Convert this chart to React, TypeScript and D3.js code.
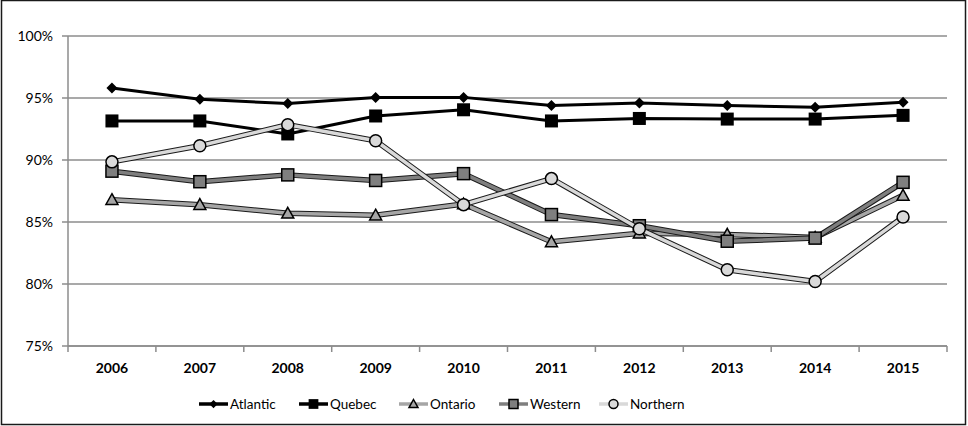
import React from "react";
import * as d3 from "d3";

const years = ["2006", "2007", "2008", "2009", "2010", "2011", "2012", "2013", "2014", "2015"];
const atlantic = [95.8, 94.9, 94.55, 95.05, 95.05, 94.4, 94.6, 94.4, 94.25, 94.65];
const quebec = [93.15, 93.15, 92.1, 93.55, 94.05, 93.15, 93.35, 93.3, 93.3, 93.6];
const ontario = [86.8, 86.4, 85.7, 85.55, 86.45, 83.4, 84.1, 84.0, 83.75, 87.15];
const western = [89.1, 88.25, 88.8, 88.35, 88.9, 85.6, 84.7, 83.45, 83.7, 88.2];
const northern = [89.85, 91.15, 92.85, 91.55, 86.4, 88.5, 84.45, 81.15, 80.2, 85.4];
const yTicks = [75, 80, 85, 90, 95, 100];

type Series = {
  name: string;
  values: number[];
  color: string;
  outline: boolean;
  marker: "diamond" | "square" | "triangle" | "circle";
  markerFill: string;
  legendColor: string;
};

const series: Series[] = [
  { name: "Atlantic", values: atlantic, color: "#000", outline: false, marker: "diamond", markerFill: "#000", legendColor: "#000" },
  { name: "Quebec", values: quebec, color: "#000", outline: false, marker: "square", markerFill: "#000", legendColor: "#000" },
  { name: "Ontario", values: ontario, color: "#a6a6a6", outline: true, marker: "triangle", markerFill: "#a6a6a6", legendColor: "#a6a6a6" },
  { name: "Western", values: western, color: "#7f7f7f", outline: true, marker: "square", markerFill: "#7f7f7f", legendColor: "#7f7f7f" },
  { name: "Northern", values: northern, color: "#d9d9d9", outline: true, marker: "circle", markerFill: "#d9d9d9", legendColor: "#d9d9d9" },
];

const FONT = "Lato, 'Open Sans', sans-serif";

function Marker({ s, x, y, scale = 1 }: { s: Series; x: number; y: number; scale?: number }) {
  const stroke = "#000";
  if (s.marker === "diamond") {
    const r = 5.5 * scale;
    return <path d={`M${x},${y - r}L${x + r},${y}L${x},${y + r}L${x - r},${y}Z`} fill={s.markerFill} />;
  }
  if (s.marker === "square") {
    const h = (s.name === "Quebec" ? 6.5 : 6) * scale;
    return <rect x={x - h} y={y - h} width={2 * h} height={2 * h} fill={s.markerFill} stroke={stroke} strokeWidth={s.name === "Quebec" ? 0 : 1.5} />;
  }
  if (s.marker === "triangle") {
    const h = 6 * scale;
    return <path d={`M${x},${y - h}L${x + h},${y + h * 0.8}L${x - h},${y + h * 0.8}Z`} fill={s.markerFill} stroke={stroke} strokeWidth={1.5} />;
  }
  return <circle cx={x} cy={y} r={6 * scale} fill={s.markerFill} stroke={stroke} strokeWidth={1.5} />;
}

export default function App() {
  const W = 968, H = 426;
  const left = 68, right = 947, top = 36, bottom = 346;
  const x = d3.scaleBand<string>().domain(years).range([left, right]);
  const y = d3.scaleLinear().domain([75, 100]).range([bottom, top]);
  const cx = (yr: string) => (x(yr) as number) + x.bandwidth() / 2;
  const line = d3.line<number>().x((_, i) => cx(years[i])).y((v) => y(v));
  const boundaries = years.map((yr) => x(yr) as number).concat([right]);

  return (
    <svg width={W} height={H} style={{ position: "absolute", left: 0, top: 0, background: "#fff" }} fontFamily={FONT}>
      <rect x={1.5} y={0.5} width={964} height={424} fill="#fff" stroke="#1a1a1a" strokeWidth={1.5} />
      {yTicks.map((t) => (
        <g key={t}>
          <line x1={left - 6} x2={right} y1={y(t)} y2={y(t)} stroke="#8c8c8c" strokeWidth={1.5} />
          <text x={53} y={y(t)} dy="0.35em" textAnchor="end" fontSize={14} fill="#000">{t}%</text>
        </g>
      ))}
      <line x1={left} x2={left} y1={top} y2={bottom} stroke="#8c8c8c" strokeWidth={1.5} />
      <line x1={left} x2={right} y1={bottom} y2={bottom} stroke="#8c8c8c" strokeWidth={1.5} />
      {boundaries.map((b, i) => (
        <line key={i} x1={b} x2={b} y1={bottom} y2={bottom + 6} stroke="#8c8c8c" strokeWidth={1.5} />
      ))}
      {years.map((yr) => (
        <text key={yr} x={cx(yr)} y={368} dy="0.35em" textAnchor="middle" fontSize={14} fontWeight="bold" fill="#000">{yr}</text>
      ))}
      {series.map((s) => (
        <g key={s.name}>
          {s.outline && <path d={line(s.values) || ""} fill="none" stroke="#1a1a1a" strokeWidth={5.5} strokeLinejoin="round" />}
          <path d={line(s.values) || ""} fill="none" stroke={s.color} strokeWidth={s.outline ? 3.5 : 3} strokeLinejoin="round" />
          {s.values.map((v, i) => (
            <Marker key={i} s={s} x={cx(years[i])} y={y(v)} />
          ))}
        </g>
      ))}
      {series.map((s, i) => {
        const lx = 199 + i * 100;
        const ly = 404;
        return (
          <g key={s.name}>
            <line x1={lx} x2={lx + 29} y1={ly} y2={ly} stroke={s.legendColor} strokeWidth={3.5} />
            <Marker s={s} x={lx + 14.5} y={ly} scale={0.75} />
            <text x={lx + 31} y={ly} dy="0.35em" fontSize={13.5} fill="#000">{s.name}</text>
          </g>
        );
      })}
    </svg>
  );
}
